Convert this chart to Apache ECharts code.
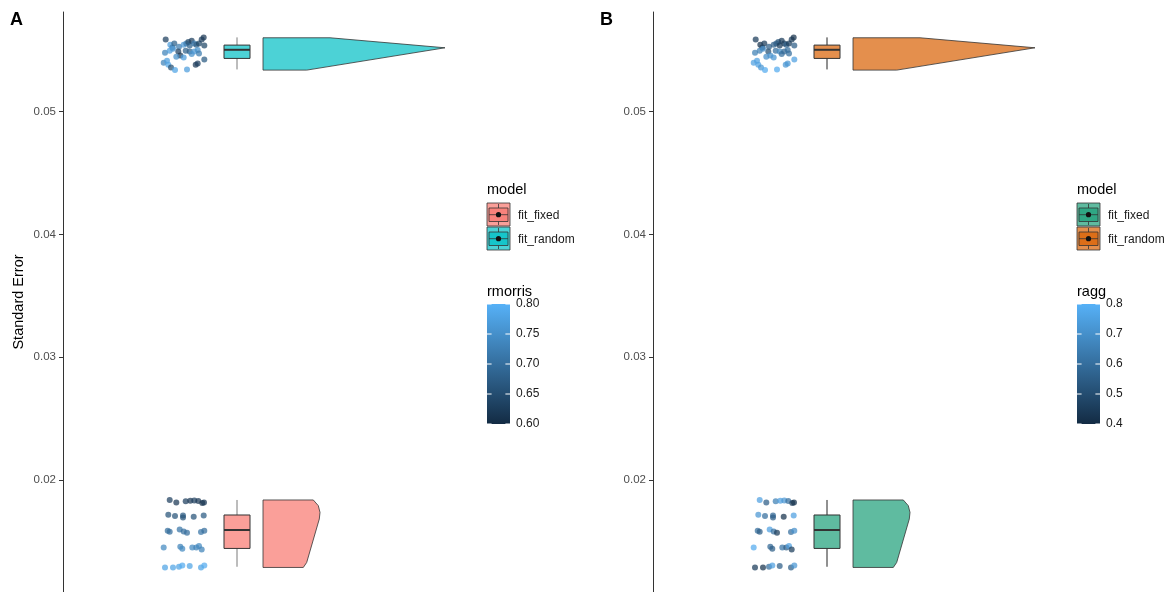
<!DOCTYPE html>
<html><head><meta charset="utf-8">
<script src="https://cdn.jsdelivr.net/npm/echarts@6/dist/echarts.min.js"></script>
<style>html,body{margin:0;padding:0;background:#fff}#c{width:1174px;height:592px}</style>
</head><body><div id="c"></div>
<script>
// ---------------- data ----------------
const groups = ['fit_fixed', 'fit_random'];
const yTicks = [0.02, 0.03, 0.04, 0.05];
const rmorrisTicks = [0.60, 0.65, 0.70, 0.75, 0.80];
const raggTicks = [0.4, 0.5, 0.6, 0.7, 0.8];

// fit_fixed: standard error, jittered x position, colour variables
const seFixed = [
  0.018367, 0.018171, 0.018253, 0.018310, 0.018334, 0.018286, 0.018122, 0.018171,
  0.017168, 0.017062, 0.017111, 0.016947, 0.017004, 0.017111,
  0.015863, 0.015781, 0.015969, 0.015806, 0.015700, 0.015757, 0.015863,
  0.014501, 0.014558, 0.014395, 0.014501, 0.014501, 0.014615, 0.014338,
  0.012869, 0.012869, 0.012926, 0.013032, 0.012983, 0.012869, 0.013032
];
const jitterFixed = [
  1.067, 1.133, 1.227, 1.273, 1.313, 1.353, 1.393, 1.410,
  1.053, 1.120, 1.200, 1.200, 1.307, 1.407,
  1.047, 1.067, 1.167, 1.207, 1.240, 1.380, 1.413,
  1.007, 1.173, 1.193, 1.293, 1.333, 1.360, 1.387,
  1.020, 1.100, 1.160, 1.193, 1.267, 1.380, 1.413
];
const rmorrisFixed = [
  0.63, 0.62, 0.63, 0.62, 0.63, 0.62, 0.61, 0.62,
  0.66, 0.66, 0.67, 0.66, 0.66, 0.67,
  0.70, 0.70, 0.71, 0.70, 0.70, 0.71, 0.70,
  0.74, 0.73, 0.74, 0.74, 0.73, 0.74, 0.73,
  0.78, 0.78, 0.78, 0.79, 0.78, 0.78, 0.79
];
const raggFixed = [
  0.75, 0.55, 0.65, 0.75, 0.72, 0.60, 0.45, 0.42,
  0.72, 0.60, 0.58, 0.55, 0.42, 0.75,
  0.60, 0.55, 0.75, 0.60, 0.45, 0.60, 0.70,
  0.78, 0.58, 0.55, 0.62, 0.55, 0.75, 0.45,
  0.45, 0.42, 0.60, 0.75, 0.55, 0.55, 0.72
];

// fit_random
const seRandom = [
  0.055889, 0.055449, 0.055237, 0.055563, 0.055286, 0.054910, 0.054584, 0.055449,
  0.055563, 0.055669, 0.055400, 0.055775, 0.055563, 0.055449, 0.055563, 0.055889,
  0.056052, 0.055400, 0.054796, 0.054959, 0.055123, 0.054470, 0.054959, 0.054910,
  0.054690, 0.054910, 0.055016, 0.054747, 0.054421, 0.053981, 0.054144, 0.053817,
  0.053605, 0.053385, 0.053442, 0.053817, 0.053932, 0.054258
];
const jitterRandom = [
  1.027, 1.073, 1.093, 1.113, 1.160, 1.153, 1.173, 1.207,
  1.233, 1.253, 1.267, 1.287, 1.313, 1.333, 1.360, 1.387,
  1.407, 1.413, 1.020, 1.067, 1.100, 1.133, 1.227, 1.267,
  1.287, 1.313, 1.347, 1.360, 1.207, 1.007, 1.040, 1.053,
  1.080, 1.120, 1.240, 1.327, 1.347, 1.413
];
const rmorrisRandom = [
  0.63, 0.77, 0.72, 0.68, 0.72, 0.63, 0.62, 0.76,
  0.72, 0.64, 0.68, 0.63, 0.72, 0.67, 0.64, 0.63,
  0.62, 0.64, 0.73, 0.77, 0.76, 0.75, 0.68, 0.68,
  0.75, 0.76, 0.75, 0.72, 0.77, 0.73, 0.77, 0.78,
  0.65, 0.78, 0.77, 0.62, 0.63, 0.67
];
const raggRandom = [
  0.45, 0.42, 0.45, 0.45, 0.55, 0.50, 0.70, 0.55,
  0.55, 0.52, 0.45, 0.45, 0.45, 0.55, 0.45, 0.45,
  0.42, 0.55, 0.65, 0.65, 0.70, 0.70, 0.60, 0.68,
  0.60, 0.58, 0.60, 0.60, 0.72, 0.75, 0.75, 0.75,
  0.72, 0.78, 0.78, 0.72, 0.72, 0.75
];

// boxplot stats: [lower whisker, q1, median, q3, upper whisker]
const boxFixed  = [0.012926, 0.014419, 0.015920, 0.017144, 0.018367];
const boxRandom = [0.053442, 0.054339, 0.055041, 0.055424, 0.056052];

// half-violin outline: [standard error, density width]
const violinFixed  = [[0.018367, 0.503], [0.017902, 0.553], [0.017355, 0.570], [0.016817, 0.563], [0.013277, 0.437], [0.012869, 0.403]];
const violinRandom = [[0.056020, 0.670], [0.055204, 1.820], [0.053385, 0.437]];

// ---------------- layout / style ----------------
const Y_MIN = 0.01087, Y_MAX = 0.05812;
const BOX_X = 1.74, BOX_HALF = 0.13, VIOLIN_BASE = 2.0;
const LOW = '#132B43', HIGH = '#56B1F7';
const FONT = '"Liberation Sans", Arial, sans-serif';

const panels = [
  {label: 'A', left: 63, legendLeft: 487, fixed: '248,118,109', random: '0,191,196',
   cFixed: rmorrisFixed, cRandom: rmorrisRandom, range: [0.6, 0.8], ticks: rmorrisTicks, dec: 2,
   title: 'rmorris', whisker: '#7a7a7a', yName: 'Standard Error'},
  {label: 'B', left: 653, legendLeft: 1077, fixed: '27,158,119', random: '217,95,2',
   cFixed: raggFixed, cRandom: raggRandom, range: [0.4, 0.8], ticks: raggTicks, dec: 1,
   title: 'ragg', whisker: '#222', yName: ''}
];

const grid = [], xAxis = [], yAxis = [], series = [], visualMap = [], graphic = [];

panels.forEach(p => {
  const fillOf = g => 'rgba(' + (g === 0 ? p.fixed : p.random) + ',0.7)';
  const gMain = grid.length;
  grid.push({left: p.left, top: 12, width: 420, height: 580, outerBoundsMode: 'none', containLabel: false});
  const gBar = grid.length;
  grid.push({left: p.legendLeft, top: 304, width: 23, height: 120, outerBoundsMode: 'none', containLabel: false});
  const xi = xAxis.length, yi = yAxis.length;
  xAxis.push({gridIndex: gMain, type: 'value', min: 0, max: 4.2, show: false});
  xAxis.push({gridIndex: gBar, type: 'value', min: 0, max: 1, show: false});
  yAxis.push({
    gridIndex: gMain, type: 'value', min: Y_MIN, max: Y_MAX,
    name: p.yName, nameLocation: 'middle', nameGap: 37,
    nameTextStyle: {fontSize: 14.5, color: '#000', fontFamily: FONT},
    axisLine: {show: true, onZero: false, lineStyle: {color: '#333', width: 1}},
    axisTick: {show: true, customValues: yTicks, length: 4, lineStyle: {color: '#333'}},
    axisLabel: {customValues: yTicks, formatter: v => v.toFixed(2), color: '#4D4D4D',
                fontSize: 11.5, fontFamily: FONT, margin: 7},
    splitLine: {show: false}
  });
  yAxis.push({
    gridIndex: gBar, type: 'value', min: p.range[0], max: p.range[1], position: 'right',
    axisLine: {show: false}, axisTick: {show: false}, splitLine: {show: false},
    axisLabel: {customValues: p.ticks, formatter: v => v.toFixed(p.dec), margin: 6,
                color: '#1a1a1a', fontSize: 12, fontFamily: FONT}
  });

  // half violins
  series.push({
    type: 'custom', xAxisIndex: xi, yAxisIndex: yi, silent: true,
    data: [[VIOLIN_BASE, boxFixed[2], 0], [VIOLIN_BASE, boxRandom[2], 1]],
    encode: {x: 0, y: 1},
    renderItem: (params, api) => {
      const base = api.value(0), g = api.value(2);
      const outline = g === 0 ? violinFixed : violinRandom;
      const pts = [api.coord([base, outline[0][0]])];
      outline.forEach(d => pts.push(api.coord([base + d[1], d[0]])));
      pts.push(api.coord([base, outline[outline.length - 1][0]]));
      return {type: 'polygon', shape: {points: pts},
              style: {fill: fillOf(g), stroke: '#333', lineWidth: 0.8}};
    }
  });

  // boxplots
  series.push({
    type: 'custom', xAxisIndex: xi, yAxisIndex: yi, silent: true,
    data: [[BOX_X].concat(boxFixed, [0]), [BOX_X].concat(boxRandom, [1])],
    encode: {x: 0, y: [1, 5]},
    renderItem: (params, api) => {
      const cx = api.value(0), lo = api.value(1), q1 = api.value(2), med = api.value(3),
            q3 = api.value(4), hi = api.value(5), g = api.value(6);
      const tl = api.coord([cx - BOX_HALF, q3]), br = api.coord([cx + BOX_HALF, q1]);
      const top = api.coord([cx, hi]), bot = api.coord([cx, lo]);
      const ml = api.coord([cx - BOX_HALF, med]), mr = api.coord([cx + BOX_HALF, med]);
      return {type: 'group', children: [
        {type: 'line', shape: {x1: top[0], y1: top[1], x2: top[0], y2: tl[1]}, style: {stroke: p.whisker, lineWidth: 1}},
        {type: 'line', shape: {x1: bot[0], y1: br[1], x2: bot[0], y2: bot[1]}, style: {stroke: p.whisker, lineWidth: 1}},
        {type: 'rect', shape: {x: tl[0], y: tl[1], width: br[0] - tl[0], height: br[1] - tl[1]},
         style: {fill: fillOf(g), stroke: '#333', lineWidth: 1}},
        {type: 'line', shape: {x1: ml[0], y1: ml[1], x2: mr[0], y2: mr[1]}, style: {stroke: '#333', lineWidth: 2}}
      ]};
    }
  });

  // jittered points
  const pts = jitterFixed.map((x, k) => [x, seFixed[k], p.cFixed[k]])
    .concat(jitterRandom.map((x, k) => [x, seRandom[k], p.cRandom[k]]));
  visualMap.push({type: 'continuous', show: false, seriesIndex: series.length, dimension: 2,
                  min: p.range[0], max: p.range[1], inRange: {color: [LOW, HIGH]}});
  series.push({type: 'scatter', xAxisIndex: xi, yAxisIndex: yi, silent: true, symbolSize: 6,
               itemStyle: {opacity: 0.72}, data: pts});

  // colour bar
  series.push({
    type: 'custom', xAxisIndex: xi + 1, yAxisIndex: yi + 1, silent: true,
    data: [[0, p.range[0]]], encode: {x: 0, y: 1},
    renderItem: (params, api) => {
      const a = api.coord([0, p.range[1]]), b = api.coord([1, p.range[0]]);
      const children = [{type: 'rect', shape: {x: a[0], y: a[1], width: b[0] - a[0], height: b[1] - a[1]},
        style: {fill: new echarts.graphic.LinearGradient(0, 0, 0, 1, [{offset: 0, color: HIGH}, {offset: 1, color: LOW}])}}];
      p.ticks.forEach(t => {
        const y = api.coord([0, t])[1];
        children.push({type: 'line', shape: {x1: a[0], y1: y, x2: a[0] + 4.6, y2: y}, style: {stroke: '#fff', lineWidth: 1}});
        children.push({type: 'line', shape: {x1: b[0] - 4.6, y1: y, x2: b[0], y2: y}, style: {stroke: '#fff', lineWidth: 1}});
      });
      return {type: 'group', children: children};
    }
  });

  // panel letter
  graphic.push({type: 'text', x: p.left - 53, y: 20,
    style: {text: p.label, font: 'bold 18px ' + FONT, fill: '#000', textVerticalAlign: 'middle'}});
  // model legend
  const L = p.legendLeft;
  graphic.push({type: 'text', x: L, y: 190,
    style: {text: 'model', font: '14.5px ' + FONT, fill: '#000', textVerticalAlign: 'middle'}});
  groups.forEach((name, g) => {
    const y0 = 203 + g * 24;
    graphic.push({type: 'rect', shape: {x: L, y: y0, width: 23, height: 23},
      style: {fill: fillOf(g), stroke: '#333', lineWidth: 0.8}});
    graphic.push({type: 'line', shape: {x1: L + 11.5, y1: y0 + 1, x2: L + 11.5, y2: y0 + 5}, style: {stroke: '#333', lineWidth: 0.8}});
    graphic.push({type: 'line', shape: {x1: L + 11.5, y1: y0 + 18.5, x2: L + 11.5, y2: y0 + 22}, style: {stroke: '#333', lineWidth: 0.8}});
    graphic.push({type: 'rect', shape: {x: L + 2, y: y0 + 5, width: 19, height: 13.5},
      style: {fill: fillOf(g), stroke: '#333', lineWidth: 0.8}});
    graphic.push({type: 'line', shape: {x1: L + 2, y1: y0 + 11.7, x2: L + 21, y2: y0 + 11.7}, style: {stroke: '#333', lineWidth: 0.8}});
    graphic.push({type: 'circle', shape: {cx: L + 11.5, cy: y0 + 11.7, r: 2.6}, style: {fill: '#111'}});
    graphic.push({type: 'text', x: L + 31, y: y0 + 12.5,
      style: {text: name, font: '12px ' + FONT, fill: '#1a1a1a', textVerticalAlign: 'middle'}});
  });
  graphic.push({type: 'text', x: L, y: 292,
    style: {text: p.title, font: '14.5px ' + FONT, fill: '#000', textVerticalAlign: 'middle'}});
});

const chart = echarts.init(document.getElementById('c'), null, {renderer: 'canvas'});
chart.setOption({
  animation: false,
  backgroundColor: '#fff',
  grid, xAxis, yAxis, visualMap, series, graphic
});
</script>
</body></html>
